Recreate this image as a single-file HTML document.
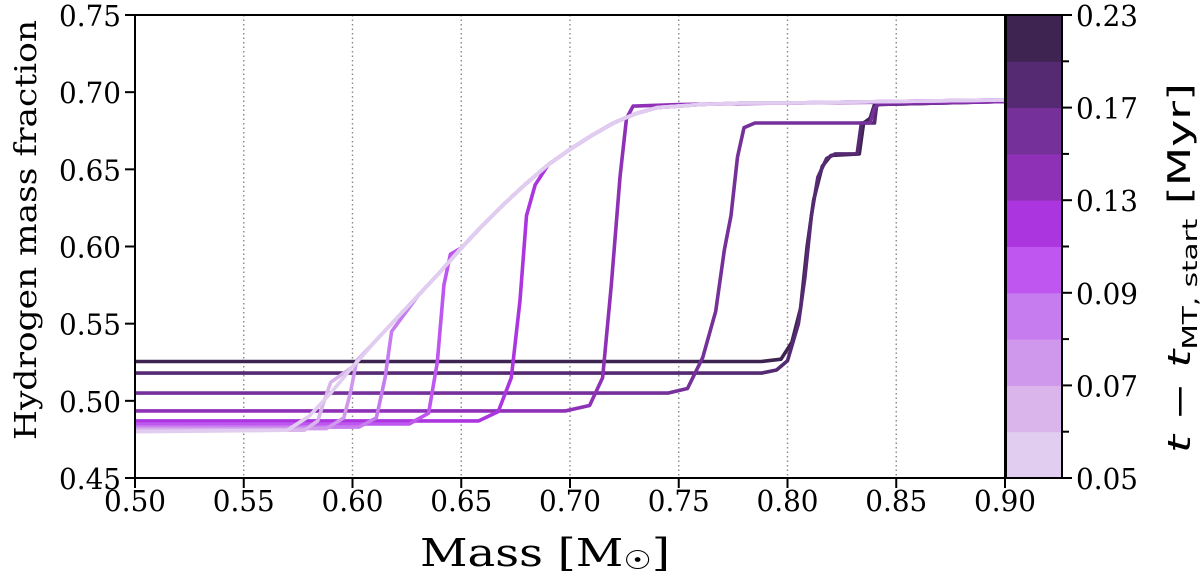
<!DOCTYPE html>
<html><head><meta charset="utf-8"><style>
body{margin:0;background:#fff;}
svg{display:block;font-family:"DejaVu Serif","Liberation Serif",serif;}
</style></head><body>
<svg id="chart" width="1200" height="582" viewBox="0 0 1200 582">
<g id="grid"></g>
<g id="lines"></g>
<g id="axes"></g>
<g id="cbar"></g>
<text x="420" y="566" font-size="38" textLength="250" lengthAdjust="spacingAndGlyphs">Mass [M<tspan font-size="26" dy="3">☉</tspan><tspan dy="-3">]</tspan></text>
<text transform="translate(36,230) rotate(-90)" font-size="30" text-anchor="middle" textLength="420" lengthAdjust="spacingAndGlyphs">Hydrogen mass fraction</text>
<text transform="translate(1190,268) rotate(-90)" font-size="31" text-anchor="middle" font-family="DejaVu Sans" textLength="370" lengthAdjust="spacingAndGlyphs"><tspan font-style="italic">t</tspan> − <tspan font-style="italic">t</tspan><tspan font-size="20" dy="7">MT, start</tspan><tspan dy="-7"> [Myr]</tspan></text>
</svg>
<script>
const xTicks=[0.50,0.55,0.60,0.65,0.70,0.75,0.80,0.85,0.90];
const yTicks=[0.45,0.50,0.55,0.60,0.65,0.70,0.75];
const cbarLabels=["0.05","0.07","0.09","0.13","0.17","0.23"];
const cbarColors=["#e1cdef","#d9b5ec","#cf98ec","#c67bee","#be56ef","#ab35de","#8f31b7","#75309a","#562a72","#3e2451"];
const envX=[0.57,0.58,0.59,0.60,0.61,0.62,0.63,0.64,0.65,0.66,0.67,0.68,0.69,0.70,0.71,0.72,0.73,0.74,0.75,0.76,0.78,0.80,0.85,0.90];
const envY=[0.481,0.490,0.505,0.522,0.538,0.553,0.568,0.583,0.599,0.614,0.628,0.641,0.653,0.663,0.672,0.680,0.686,0.690,0.691,0.692,0.693,0.693,0.694,0.695];
const s1x=[0.50],s1y=[0.480];
const s2x=[0.50,0.578,0.584,0.587,0.590],s2y=[0.481,0.481,0.487,0.500,0.512];
const s3x=[0.50,0.588,0.596,0.599,0.602],s3y=[0.482,0.482,0.489,0.505,0.526];
const s4x=[0.50,0.603,0.611,0.615,0.618],s4y=[0.483,0.483,0.489,0.515,0.545];
const s5x=[0.50,0.626,0.635,0.639,0.642,0.645],s5y=[0.485,0.485,0.492,0.525,0.575,0.595];
const s6x=[0.50,0.658,0.667,0.673,0.677,0.680,0.684],s6y=[0.487,0.487,0.493,0.515,0.565,0.620,0.640];
const s7x=[0.50,0.698,0.709,0.715,0.719,0.723,0.726,0.729,0.75,0.80,0.90],s7y=[0.4935,0.4935,0.497,0.515,0.575,0.645,0.683,0.691,0.692,0.693,0.694];
const s8x=[0.50,0.745,0.754,0.761,0.767,0.771,0.774,0.777,0.780,0.785,0.838,0.840,0.842,0.90],s8y=[0.505,0.505,0.508,0.528,0.558,0.598,0.620,0.658,0.677,0.680,0.680,0.690,0.692,0.694];
const s9x=[0.50,0.788,0.795,0.800,0.805,0.808,0.811,0.814,0.818,0.822,0.832,0.834,0.840,0.841,0.90],s9y=[0.518,0.518,0.520,0.526,0.550,0.580,0.620,0.645,0.657,0.660,0.660,0.680,0.680,0.692,0.694];
const s10x=[0.50,0.788,0.797,0.802,0.806,0.809,0.812,0.816,0.820,0.833,0.835,0.838,0.840,0.90],s10y=[0.5255,0.5255,0.527,0.538,0.560,0.600,0.630,0.652,0.659,0.660,0.680,0.683,0.692,0.694];
const joinAt=[0.57,0.60,0.61,0.625,0.65,0.69,null,null,null,null];

const L=135,R=1005,T=15,B=478;
const sx=v=>L+(v-0.5)/0.4*(R-L);
const sy=v=>B-(v-0.45)/0.3*(B-T);
const NS="http://www.w3.org/2000/svg";
function mk(tag,attrs,parent){const e=document.createElementNS(NS,tag);for(const k in attrs)e.setAttribute(k,attrs[k]);parent.appendChild(e);return e;}
const grid=document.getElementById('grid'),axes=document.getElementById('axes'),lines=document.getElementById('lines'),cbar=document.getElementById('cbar');
xTicks.forEach(t=>{
  const x=sx(t);
  if(t>0.5&&t<0.9){const g=mk('line',{x1:x,x2:x,y1:T,y2:B,stroke:'#888','stroke-width':1.4,'stroke-dasharray':'1.5,3'},grid);
  
  }
  const tk=mk('line',{x1:x,x2:x,y1:B,y2:B+10,stroke:'#000','stroke-width':2},axes);
  
  
  const tl=mk('text',{x:x,y:B+33,'font-size':29,'text-anchor':'middle',textLength:62,lengthAdjust:'spacingAndGlyphs'},axes);
  tl.textContent=t.toFixed(2);
  
  
});
yTicks.forEach(t=>{
  const y=sy(t);
  const tk=mk('line',{x1:L-10,x2:L,y1:y,y2:y,stroke:'#000','stroke-width':2},axes);
  
  
  const tl=mk('text',{x:L-14,y:y+11,'font-size':29,'text-anchor':'end',textLength:62,lengthAdjust:'spacingAndGlyphs'},axes);
  tl.textContent=t.toFixed(2);
  
  
});
const frame=mk('rect',{x:L,y:T,width:R-L,height:B-T,fill:'none',stroke:'#000','stroke-width':2},axes);



const seriesX=[s1x,s2x,s3x,s4x,s5x,s6x,s7x,s8x,s9x,s10x];
const seriesY=[s1y,s2y,s3y,s4y,s5y,s6y,s7y,s8y,s9y,s10y];
for(let i=9;i>=0;i--){
  let xs=seriesX[i].slice(),ys=seriesY[i].slice();
  if(joinAt[i]!==null){envX.forEach((x,k)=>{if(x>=joinAt[i]){xs.push(x);ys.push(envY[k]);}});}
  const d=xs.map((x,k)=>(k?'L':'M')+sx(x).toFixed(1)+','+sy(ys[k]).toFixed(1)).join('');
  const p=mk('path',{d:d,fill:'none',stroke:cbarColors[i],'stroke-width':3.6,'stroke-linejoin':'round'},lines);
  
  
}
const CL=1006,CR=1062,bh=(B-T)/cbarColors.length;
cbarColors.forEach((c,i)=>{
  const r=mk('rect',{x:CL,y:B-(i+1)*bh,width:CR-CL,height:bh+0.5,fill:c},cbar);
  
  
});
const cf=mk('rect',{x:CL,y:T,width:CR-CL,height:B-T,fill:'none',stroke:'#000','stroke-width':2},cbar);


for(let k=0;k<=10;k++){
  const y=B-k*bh,major=k%2===0;
  const tk=mk('line',{x1:CR,x2:CR+(major?10:7),y1:y,y2:y,stroke:'#000','stroke-width':2},cbar);
  
  
  if(major){const tl=mk('text',{x:CR+14,y:y+11,'font-size':29,textLength:62,lengthAdjust:'spacingAndGlyphs'},cbar);
  tl.textContent=cbarLabels[k/2];
  
  }
}
</script>
</body></html>
